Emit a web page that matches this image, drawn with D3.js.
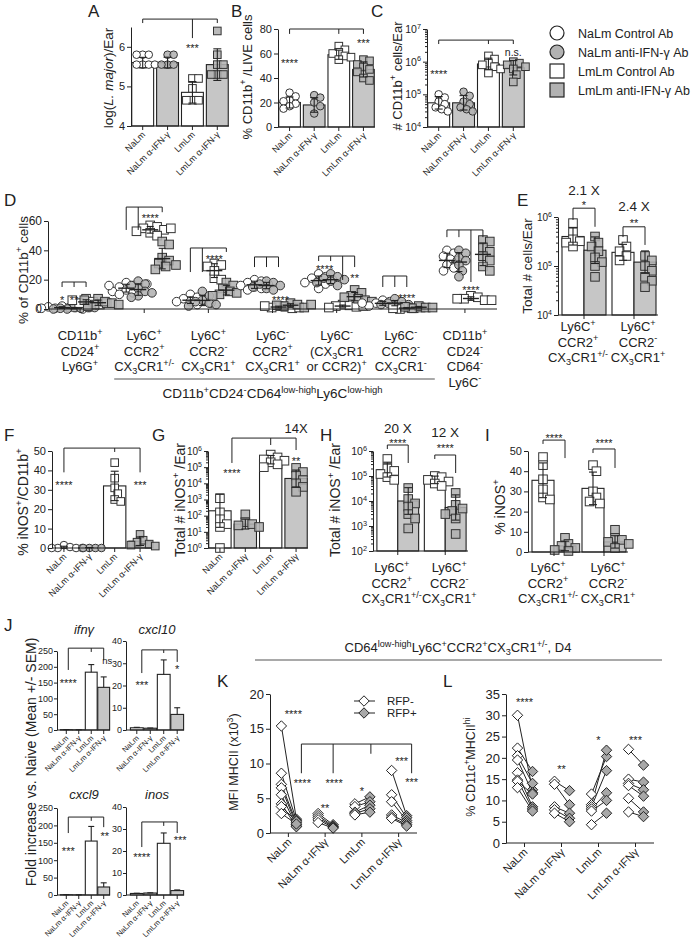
<!DOCTYPE html>
<html><head><meta charset="utf-8">
<script src="https://cdn.jsdelivr.net/npm/d3@7"></script>
<style>body{margin:0;background:#fff}</style>
</head><body>
<script>
const FONT = "'Liberation Sans', Arial, Helvetica, sans-serif";
const INK = "#222", BARGREY = "#c6c6c6", PTGREY = "#b2b2b2";

// ---------- data ----------
const grpLong = ["NaLm", "NaLm α-IFN-γ", "LmLm", "LmLm α-IFN-γ"];
const grpShort = ["NaLm", "NaLm α-IFNγ", "LmLm", "LmLm α-IFNγ"];
const legendLabels = ["NaLm Control Ab", "NaLm anti-IFN-γ Ab", "LmLm Control Ab", "LmLm anti-IFN-γ Ab"];
const shapes4 = ["circle", "circle", "square", "square"];

const aTicks = [4, 5, 6];
const aMean = [5.6, 5.6, 4.85, 5.55];
const aPts = [[5.8, 5.8, 5.8, 5.55, 5.55, 5.55, 5.55], [5.8, 5.8, 5.55, 5.55, 5.55], [5.2, 5.2, 4.95, 4.65, 4.65, 4.65], [6.4, 5.8, 5.55, 5.55, 5.3, 5.3, 5.3]];

const bTicks = [0, 20, 40, 60, 80];
const bMean = [20, 18, 59, 47];
const bPts = [[28, 25, 22, 21, 19, 17, 15], [26, 24, 20, 17, 11], [66, 63, 61, 60, 58, 57, 55], [55, 54, 51, 49, 47, 45, 40, 38]];

const cTicks = [1e4, 1e5, 1e6, 1e7];
const cMean = [5.5e4, 5.5e4, 8.5e5, 6.5e5];
const cPts = [[1e5, 8e4, 6e4, 5e4, 4e4, 3.5e4, 3e4], [1.2e5, 9e4, 6e4, 5e4, 4e4, 3.5e4, 3e4], [1.5e6, 1.2e6, 9e5, 8e5, 7e5, 6e5, 4.5e5], [1e6, 9e5, 8e5, 7e5, 6e5, 4e5, 2.4e5]];

const dTicks = [0, 20, 40, 60];
const dGroups = [
  ["CD11b{^+}", "CD24{^+}", "Ly6G{^+}"],
  ["Ly6C{^+}", "CCR2{^+}", "CX{_3}CR1{^+/-}"],
  ["Ly6C{^+}", "CCR2{^-}", "CX{_3}CR1{^+}"],
  ["Ly6C{^-}", "CCR2{^+}", "CX{_3}CR1{^+}"],
  ["Ly6C{^-}", "(CX{_3}CR1", "or CCR2){^+}"],
  ["Ly6C{^-}", "CCR2{^-}", "CX{_3}CR1{^-}"],
  ["CD11b{^+}", "CD24{^-}", "CD64{^-}", "Ly6C{^-}"]];
const dSubtitle = "CD11b{^+}CD24{^-}CD64{^low-high}Ly6C{^low-high}";
const dPts = [
  [[2, 1, 0.5, 1, 1.5, 0, 0.5, 1], [1, 0.5, 0, 1, 0.5, 1, 0], [7, 5, 4, 3, 6, 4], [7, 5, 3, 2, 4, 6, 3]],
  [[18, 16, 15, 14, 13, 12, 11, 16, 10, 17], [19, 17, 14, 12, 9, 8, 11, 16], [57, 56, 55, 54, 53, 52, 50, 55], [46, 44, 35, 33, 31, 29, 27, 30]],
  [[10, 8, 7, 6, 5, 5, 4, 3], [12, 9, 6, 5, 4, 3, 2], [31, 30, 29, 21, 20, 26], [18, 16, 14, 12, 11, 10, 9]],
  [[20, 19, 18, 17, 16, 15, 14, 13], [19, 18, 17, 16, 15, 14, 13], [2, 1.5, 1, 0.5, 2, 1], [4, 3, 2, 1, 2.5, 3]],
  [[24, 22, 21, 20, 19, 18, 17, 14], [24, 22, 21, 20, 19, 18, 16], [3, 2.5, 2, 1.5, 1, 2], [13, 11, 9, 8, 7, 6, 5]],
  [[6, 5, 4, 3, 2, 3, 4], [7, 5, 4, 3, 2, 3], [1, 0.5, 0, 1, 0.5], [2, 1, 0.5, 1, 1.5]],
  [[40, 38, 36, 34, 33, 30, 28, 26], [40, 38, 35, 33, 30, 26, 22], [9, 8, 7, 6, 7, 6], [47, 46, 42, 39, 36, 33, 29, 26]]];

const pairCats = [["Ly6C{^+}", "CCR2{^+}", "CX{_3}CR1{^+/-}"], ["Ly6C{^+}", "CCR2{^-}", "CX{_3}CR1{^+}"]];
const eTicks = [1e4, 1e5, 1e6];
const eMean = [[4e5, 2.1e5], [1.9e5, 1.2e5]];
const ePts = [[[7.5e5, 5e5, 3.5e5, 3.2e5, 3e5, 2.5e5], [4e5, 3e5, 2.5e5, 2e5, 1.5e5, 1.2e5, 1e5, 6e4]],
              [[3.4e5, 2.5e5, 2e5, 1.6e5, 1.3e5], [1.6e5, 1.3e5, 1e5, 8e4, 6e4, 5e4, 3.7e4]]];

const fTicks = [0, 10, 20, 30, 40, 50];
const fMean = [0.3, 0.2, 32, 3.5];
const fPts = [[1.5, 0.5, 0, 0, 0, 0], [0, 0, 0, 0], [44, 36, 31, 28, 25, 24], [7, 4, 3, 2, 1.5, 1]];

const gTicks = [1, 10, 100, 1e3, 1e4, 1e5, 1e6];
const gMean = [200, 30, 2.9e5, 2e4];
const gPts = [[1200, 160, 60, 30, 20, 1], [120, 40, 30, 25, 20], [6e5, 4e5, 3e5, 2.5e5, 2e5, 1.5e5, 1e5], [9e4, 5e4, 3e4, 1.6e4, 1e4, 6e3, 3e3]];

const hTicks = [1e2, 1e3, 1e4, 1e5, 1e6];
const hMean = [[1.8e5, 1e4], [7e4, 5.5e3]];
const hPts = [[[4.8e5, 2e5, 1.6e5, 1.2e5, 9e4, 7e4], [3.3e4, 1.2e4, 8e3, 6e3, 3e3, 2e3, 800]],
              [[1e5, 9e4, 7e4, 6e4, 5e4, 4e4], [2.1e4, 7e3, 5e3, 4e3, 3e3, 2e3, 480]]];

const iTicks = [0, 10, 20, 30, 40, 50];
const iMean = [[35.5, 3], [31.5, 5]];
const iPts = [[[47, 43, 36, 31, 27, 26], [7, 4, 3, 2, 1, 0.5]], [[43, 40, 30, 27, 25, 24], [11, 7, 6, 5, 4, 2]]];

const jGenes = ["ifnγ", "cxcl10", "cxcl9", "inos"];
const jMax = [250, 40, 250, 40];
const jTicks = [[0, 50, 100, 150, 200, 250], [0, 10, 20, 30, 40], [0, 50, 100, 150, 200, 250], [0, 10, 20, 30, 40]];
const jMean = [[1, 0.5, 183, 135], [1, 0.8, 25, 7], [0.8, 0.3, 155, 23], [0.7, 0.9, 23.5, 2]];
const jSem = [[0.3, 0.2, 24, 33], [0.2, 0.1, 6.5, 3], [0.2, 0.1, 42, 12], [0.1, 0.1, 4.7, 0.3]];

const klTitle = "CD64{^low-high}Ly6C{^+}CCR2{^+}CX{_3}CR1{^+/-}, D4";
const rfpLabels = ["RFP-", "RFP+"];
const kTicks = [0, 5, 10, 15, 20];
const kNeg = [[15.4, 8.6, 7, 6.5, 5.5, 4.2, 3.8, 2.8], [2.8, 2.5, 2.2, 1.9, 1.5], [4.2, 3.8, 3.0, 2.8, 2.6], [9.0, 5.5, 4.5, 2.6, 2.3, 2.1]];
const kPos = [[2, 1.8, 1.5, 1.2, 1.0, 0.9, 1.7, 1.3], [1.2, 1.0, 0.9, 0.8, 0.7], [5.2, 4.5, 4.0, 3.5, 3.0], [2.5, 2.2, 1.8, 1.5, 1.2, 1.0]];
const lTicks = [0, 5, 10, 15, 20, 25, 30, 35];
const lNeg = [[30, 22.3, 20.5, 19.5, 16.5, 14.8, 14.5, 13], [14.5, 13.8, 8.5, 7.8, 7], [11.5, 9, 8.5, 8, 7.5, 4.3], [22, 15, 14, 13.5, 10.5, 7.3]];
const lPos = [[12.5, 16.8, 14, 11.8, 8.5, 8, 11.5, 7.5], [12.3, 9, 7, 5.8, 5], [20.3, 21.8, 17, 11.8, 10, 7], [18.3, 14.3, 12.5, 11, 7.3, 6.2]];

// ---------- helpers ----------
const svg = d3.select("body").append("svg").attr("width", 698).attr("height", 943)
  .style("font-family", FONT);

// {^x} superscript, {_x} subscript, {ix} italic
function rich(t, str, fs) {
  const re = /\{([_^i])([^}]*)\}/g;
  let last = 0, m, shift = 0;
  const add = (s, kind) => {
    if (!s) return;
    const sp = t.append("tspan").text(s);
    let target = 0;
    if (kind === "^") { sp.attr("font-size", fs * 0.7); target = -fs * 0.4; }
    else if (kind === "_") { sp.attr("font-size", fs * 0.7); target = fs * 0.25; }
    else if (kind === "i") sp.attr("font-style", "italic");
    if (target !== shift) { sp.attr("dy", target - shift); shift = target; }
  };
  while ((m = re.exec(str))) { add(str.slice(last, m.index), ""); add(m[2], m[1]); last = re.lastIndex; }
  add(str.slice(last), "");
}
function text(x, y, str, fs, o = {}) {
  const t = svg.append("text").attr("x", x).attr("y", y).attr("font-size", fs)
    .attr("text-anchor", o.anchor || "middle").attr("fill", INK);
  if (o.rot) t.attr("transform", `rotate(${o.rot},${x},${y})`);
  rich(t, str, fs);
  return t;
}
function ylab(xc, yc, str, fs) { text(xc + fs * 0.36, yc, str, fs, {rot: -90}); }
function letter(x, y, s) { text(x, y, s, 17, {anchor: "start"}); }

function yAxis(y, x, ticks, fs, log, tight) {
  const g = svg.append("g").attr("transform", `translate(${x},0)`)
    .call(d3.axisLeft(y).tickValues(ticks).tickSize(tight ? 3 : 4).tickSizeOuter(0).tickPadding(tight ? 1 : 2)
      .tickFormat(log ? () => "" : d3.format("d")));
  g.selectAll("path,line").attr("stroke", INK);
  g.selectAll("text").attr("font-size", fs).attr("fill", INK).style("font-family", FONT);
  if (log) {
    g.selectAll(".tick text").each(function (d) { rich(d3.select(this), `10{^${Math.round(Math.log10(d))}}`, fs); });
    const [a, b] = y.domain().map(v => Math.round(Math.log10(v)));
    const minor = [];
    for (let e = a; e < b; e++) for (let k = 2; k < 10; k++) minor.push(k * 10 ** e);
    const mg = svg.append("g").attr("transform", `translate(${x},0)`)
      .call(d3.axisLeft(y).tickValues(minor).tickSize(2).tickFormat(""));
    mg.select("path").remove();
    mg.selectAll("line").attr("stroke", INK);
  }
}
function xAxis(x0, x1, base, centers, labels, fs) {
  svg.append("line").attr("x1", x0).attr("x2", x1).attr("y1", base).attr("y2", base).attr("stroke", INK);
  svg.append("g").selectAll("line").data(centers).enter().append("line")
    .attr("x1", d => d).attr("x2", d => d).attr("y1", base).attr("y2", base + 4).attr("stroke", INK);
  if (labels) centers.forEach((c, i) => text(c + fs * 0.35, base + 6 + fs * 0.35, labels[i], fs, {anchor: "end", rot: -45}));
}
function catLabels(centers, lines, y0, fs) {
  centers.forEach((c, i) => lines[i].forEach((s, k) => text(c, y0 + k * 15.5, s, fs)));
}
function swarm(vals, y, r) {
  const placed = [];
  return vals.map(v => {
    const py = y(v);
    for (let k = 0; k < 40; k++) {
      const dx = (k % 2 ? 1 : -1) * Math.ceil(k / 2) * r * 0.8;
      if (placed.every(p => Math.hypot(p[0] - dx, p[1] - py) >= r * 1.55)) { placed.push([dx, py]); return dx; }
    }
    return 0;
  });
}
function marks(pts, shape, filled, r) {
  const g = svg.append("g").attr("stroke", "#333").attr("stroke-width", 1)
    .attr("fill", filled ? PTGREY : "#fff").attr("fill-opacity", filled ? 0.88 : 1);
  if (shape === "circle") g.selectAll("circle").data(pts).enter().append("circle")
    .attr("cx", d => d[0]).attr("cy", d => d[1]).attr("r", r);
  else g.selectAll("rect").data(pts).enter().append("rect")
    .attr("x", d => d[0] - r).attr("y", d => d[1] - r).attr("width", 2 * r).attr("height", 2 * r);
}
function errBar(x, ylo, yhi, w, capLo = true) {
  const g = svg.append("g").attr("stroke", INK).attr("stroke-width", 1.1);
  g.append("line").attr("x1", x).attr("x2", x).attr("y1", ylo).attr("y2", yhi);
  g.append("line").attr("x1", x - w).attr("x2", x + w).attr("y1", yhi).attr("y2", yhi);
  if (capLo) g.append("line").attr("x1", x - w).attr("x2", x + w).attr("y1", ylo).attr("y2", ylo);
}
function sdRange(vals, m, log, lo0) {
  const sd = log ? d3.deviation(vals.map(Math.log10)) : d3.deviation(vals);
  return log ? [Math.max(lo0, m / 10 ** sd), m * 10 ** sd] : [Math.max(lo0, m - sd), m + sd];
}
function annotate(X, Y, ann) {
  const g = svg.append("g").attr("stroke", INK).attr("stroke-width", 1);
  (ann.br || []).forEach(b => {
    const xs = b.legs.map(l => X(l[0]) + (l[2] || 0));
    g.append("line").attr("x1", d3.min(xs)).attr("x2", d3.max(xs)).attr("y1", Y(b.top)).attr("y2", Y(b.top));
    b.legs.forEach((l, i) => g.append("line").attr("x1", xs[i]).attr("x2", xs[i]).attr("y1", Y(b.top)).attr("y2", Y(l[1])));
  });
  (ann.st || []).forEach(s => {
    const star = /^\*+$/.test(s[2]);
    svg.append("text").attr("x", X(s[0]) + (s[3] || 0)).attr("y", Y(s[1])).attr("dy", star ? "0.62em" : "0.35em")
      .attr("text-anchor", "middle").attr("font-size", s[4] || 11).attr("fill", INK).text(s[2]);
  });
}

// bar chart with 4 groups
function barPanel(p) {
  const ax = p.ax || p.xr[0];
  const x = d3.scaleBand().domain(d3.range(p.mean.length)).range(p.xr)
    .paddingInner(p.pad == null ? 0.12 : p.pad).paddingOuter(0.03);
  const y = (p.log ? d3.scaleLog() : d3.scaleLinear()).domain(p.dom).range(p.yr);
  const base = p.yr[0];
  const cx = i => x(i) + x.bandwidth() / 2;
  svg.append("g").selectAll("rect").data(p.mean).enter().append("rect")
    .attr("x", (d, i) => x(i)).attr("width", x.bandwidth())
    .attr("y", d => y(d)).attr("height", d => base - y(d))
    .attr("fill", (d, i) => i % 2 ? BARGREY : "#fff").attr("stroke", INK).attr("stroke-width", 1.1);
  if (p.pts) p.pts.forEach((vals, i) => {
    const offs = swarm(vals, y, p.r);
    marks(vals.map((v, k) => [cx(i) + offs[k], y(v)]), p.shape[i], i % 2 === 1, p.r);
  });
  if (p.pts) p.pts.forEach((vals, i) => {
    const [lo, hi] = sdRange(vals, p.mean[i], p.log, p.dom[0]);
    errBar(cx(i), y(lo), y(hi), 4);
  });
  if (p.sem) p.sem.forEach((e, i) => errBar(cx(i), y(p.mean[i]), y(p.mean[i] + e), 3, false));
  yAxis(y, ax, p.ticks, p.fs, p.log, p.tight);
  xAxis(ax, p.xr[1], base, p.mean.map((d, i) => cx(i)), p.xlab, p.xfs);
  if (p.ann) annotate(cx, p.log ? v => y(10 ** v) : y, p.ann);
}

// two categories x two treatments
function pairPanel(p) {
  const xo = d3.scaleBand().domain([0, 1]).range(p.xr).paddingInner(0.12).paddingOuter(0.04);
  const xi = d3.scaleBand().domain([0, 1]).range([0, xo.bandwidth()]);
  const y = (p.log ? d3.scaleLog() : d3.scaleLinear()).domain(p.dom).range(p.yr);
  const base = p.yr[0];
  const X = k => Array.isArray(k) ? xo(k[0]) + xi(k[1]) + xi.bandwidth() / 2 : xo(k) + xo.bandwidth() / 2;
  const cells = p.mean.flatMap((row, c) => row.map((m, s) => ({c, s, m, vals: p.pts[c][s]})));
  svg.append("g").selectAll("rect").data(cells).enter().append("rect")
    .attr("x", d => xo(d.c) + xi(d.s)).attr("width", xi.bandwidth())
    .attr("y", d => y(d.m)).attr("height", d => base - y(d.m))
    .attr("fill", d => d.s ? BARGREY : "#fff").attr("stroke", INK).attr("stroke-width", 1.1);
  cells.forEach(d => {
    const offs = swarm(d.vals, y, 4.3);
    marks(d.vals.map((v, k) => [X([d.c, d.s]) + offs[k], y(v)]), "square", d.s === 1, 4.3);
  });
  cells.forEach(d => {
    const [lo, hi] = sdRange(d.vals, d.m, p.log, p.dom[0]);
    errBar(X([d.c, d.s]), y(lo), y(hi), 4);
  });
  yAxis(y, p.xr[0] - 2, p.ticks, p.fs, p.log);
  xAxis(p.xr[0] - 2, p.xr[1], base, [X(0), X(1)], null);
  catLabels([X(0) - 6, X(1) + 4], pairCats, p.labY, 13);
  if (p.ann) annotate(X, p.log ? v => y(10 ** v) : y, p.ann);
}

// paired RFP- / RFP+ diamonds
function diamond(r) { return `M0,${-r}L${r},0L0,${r}L${-r},0Z`; }
function pairedPanel(p) {
  const x = d3.scaleBand().domain(d3.range(4)).range(p.xr);
  const y = d3.scaleLinear().domain(p.dom).range(p.yr);
  const cx = i => x(i) + x.bandwidth() / 2;
  const lines = p.neg.flatMap((vals, i) => vals.map((v, k) => [cx(i) - 7, y(v), cx(i) + 8, y(p.pos[i][k])]));
  svg.append("g").selectAll("line").data(lines).enter().append("line")
    .attr("x1", d => d[0]).attr("y1", d => d[1]).attr("x2", d => d[2]).attr("y2", d => d[3])
    .attr("stroke", INK).attr("stroke-width", 1);
  [p.neg, p.pos].forEach((set, s) => {
    const pts = set.flatMap((vals, i) => vals.map(v => [cx(i) + (s ? 8 : -7), y(v)]));
    svg.append("g").selectAll("path").data(pts).enter().append("path")
      .attr("d", diamond(5.2)).attr("transform", d => `translate(${d[0]},${d[1]})`)
      .attr("fill", s ? "#a8a8a8" : "#fff").attr("stroke", INK).attr("stroke-width", 1);
  });
  yAxis(y, p.xr[0], p.ticks, 13, false);
  xAxis(p.xr[0], p.xr[1], p.yr[0], d3.range(4).map(cx), grpShort, 11);
  annotate(cx, y, p.ann);
}

// ---------- A, B, C ----------
letter(88, 17, "A"); letter(231, 17, "B"); letter(371, 17, "C");
barPanel({mean: aMean, pts: aPts, shape: shapes4, r: 3.8, xr: [131, 229], yr: [126, 27], dom: [4, 6.5],
  ticks: aTicks, fs: 11, xlab: grpLong, xfs: 9,
  ann: {br: [{top: 6.7, legs: [[0, 6.6], [2, 6.22], [3, 6.6]]}], st: [[2, 6.05, "***"]]}});
ylab(108, 78, "log({iL. major})/Ear", 13.5);
barPanel({mean: bMean, pts: bPts, shape: shapes4, r: 3.8, xr: [278, 375], yr: [127, 29], dom: [0, 80],
  ticks: bTicks, fs: 11, xlab: grpLong, xfs: 9,
  ann: {br: [{top: 80, legs: [[0, 76], [2, 76], [3, 76]]}], st: [[0, 54.7, "****"], [3, 71, "***"]]}});
ylab(247, 77, "% CD11b{^+} /LIVE cells", 13);
barPanel({mean: cMean, pts: cPts, shape: shapes4, r: 3.8, xr: [427, 525], yr: [127, 29], dom: [1e4, 1e7], log: true,
  ticks: cTicks, fs: 10.5, xlab: grpLong, xfs: 9,
  ann: {br: [{top: 6.66, legs: [[0, 6.54], [2, 6.54], [3, 6.54]]}], st: [[0, 5.71, "****"], [3, 6.3, "n.s.", 0, 10.5]]}});
ylab(397, 76, "# CD11b{^+} cells/Ear", 13);

// legend
const lgY = d3.scalePoint().domain(legendLabels).range([33, 90]);
legendLabels.forEach((s, i) => {
  if (shapes4[i] === "circle")
    svg.append("circle").attr("cx", 557).attr("cy", lgY(s)).attr("r", 7)
      .attr("fill", i % 2 ? PTGREY : "#fff").attr("stroke", INK).attr("stroke-width", 1.2);
  else
    svg.append("rect").attr("x", 550).attr("y", lgY(s) - 7).attr("width", 14).attr("height", 14)
      .attr("fill", i % 2 ? PTGREY : "#fff").attr("stroke", INK).attr("stroke-width", 1.2);
  text(578, lgY(s) + 4.5, s, 12.5, {anchor: "start"});
});

// ---------- D ----------
letter(4, 206, "D");
{
  const x = d3.scaleBand().domain(d3.range(7)).range([48, 497]);
  const sub = d3.scaleBand().domain(d3.range(4)).range([-24, 24]);
  const y = d3.scaleLinear().domain([0, 60]).range([309, 221]);
  const X = k => Array.isArray(k) ? x(k[0]) + x.bandwidth() / 2 + sub(k[1]) + sub.bandwidth() / 2 : x(k) + x.bandwidth() / 2;
  dPts.forEach((grp, gi) => grp.forEach((vals, si) => {
    const offs = swarm(vals, y, 4.3);
    marks(vals.map((v, k) => [X([gi, si]) + offs[k], y(v)]), si < 2 ? "circle" : "square", si % 2 === 1, 4.3);
  }));
  const mg = svg.append("g").attr("stroke", INK).attr("stroke-width", 1.4);
  dPts.forEach((grp, gi) => grp.forEach((vals, si) => {
    const c = X([gi, si]), m = d3.mean(vals), sd = d3.deviation(vals);
    mg.append("line").attr("x1", c - 8).attr("x2", c + 8).attr("y1", y(m)).attr("y2", y(m));
    errBar(c, y(Math.max(0, m - sd)), y(m + sd), 3.5);
  }));
  yAxis(y, 48, dTicks, 12, false);
  xAxis(48, 497, 309, d3.range(7).map(X), null);
  catLabels(d3.range(7).map(X), dGroups, 340, 13);
  svg.append("line").attr("x1", X(1) - 30).attr("x2", X(5) + 34).attr("y1", 379).attr("y2", 379).attr("stroke", "#555").attr("stroke-width", 1.2);
  text((X(1) + X(5)) / 2, 398, dSubtitle, 13.5);
  annotate(X, y, {
    br: [{top: 18.4, legs: [[[0, 0], 15], [[0, 1], 15], [[0, 2], 15]]},
         {top: 69.5, legs: [[[1, 0], 53.9], [[1, 1], 53.9], [[1, 3], 66]]},
         {top: 41.6, legs: [[[2, 0], 25.2], [[2, 1], 25.2], [[2, 3], 38.9]]},
         {top: 35.5, legs: [[[3, 0], 28.6], [[3, 1], 28.6], [[3, 2], 28.6]]},
         {top: 36.1, legs: [[[4, 0], 32.7], [[4, 1], 32.7], [[4, 2], 19.8], [[4, 3], 28.6]]},
         {top: 22.5, legs: [[[5, 0], 15], [[5, 1], 15], [[5, 2], 15]]},
         {top: 53.9, legs: [[[6, 0], 49], [[6, 1], 49], [[6, 2], 18.4], [[6, 3], 49]]}],
    st: [[[0, 0], 8.2, "*"], [[0, 1], 8.2, "**"], [[1, 2], 64, "****"], [[2, 2], 36.1, "****"],
         [3, 8.2, "****", 8], [[4, 0], 29.3, "****", 6], [[4, 3], 23.2, "**"], [[5, 2], 9.5, "****"], [[6, 2], 15, "****"]]});
  ylab(23, 270, "% of CD11b{^+} cells", 13.5);
}

// ---------- E ----------
letter(517, 206, "E");
pairPanel({mean: eMean, pts: ePts, xr: [560, 658], yr: [315, 217], dom: [1e4, 1e6], log: true, ticks: eTicks, fs: 10, labY: 331,
  ann: {br: [{top: 6.18, legs: [[[0, 0], 5.94], [[0, 1], 5.8]]}, {top: 5.8, legs: [[[1, 0], 5.59], [[1, 1], 5.43]]}],
        st: [[0, 6.55, "2.1 X", 0, 13.5], [0, 6.31, "*"], [1, 6.22, "2.4 X", 0, 13.5], [1, 5.94, "**"]]}});
ylab(527, 266, "Total # cells/Ear", 13.5);

// ---------- F, G ----------
letter(4, 441, "F"); letter(152, 441, "G");
barPanel({mean: fMean, pts: fPts, shape: shapes4, r: 3.8, xr: [52, 152], yr: [548, 451], dom: [0, 50],
  ticks: fTicks, fs: 11, xlab: grpLong, xfs: 9,
  ann: {br: [{top: 51.5, legs: [[0, 39], [2, 49.5], [3, 39]]}], st: [[0, 34, "****"], [3, 34, "***"]]}});
ylab(23, 502, "% iNOS{^+}/CD11b{^+}", 14);
barPanel({mean: gMean, pts: gPts, shape: ["square", "square", "square", "square"], r: 4.3, xr: [208, 308], yr: [548, 451],
  dom: [1, 1e6], log: true, ticks: gTicks, fs: 10, xlab: grpShort, xfs: 9,
  ann: {br: [{top: 6.8, legs: [[0, 5.26, 12], [2, 6.37], [3, 6.06]]}],
        st: [[0, 4.83, "****", 12], [3, 5.57, "**"], [3, 7.42, "14X", 0, 13]]}});
ylab(180, 500, "Total # iNOS{^+} /Ear", 14);

// ---------- H, I ----------
letter(320, 441, "H"); letter(485, 441, "I");
pairPanel({mean: hMean, pts: hPts, xr: [375, 468], yr: [551, 451], dom: [1e2, 1e6], log: true, ticks: hTicks, fs: 10.5, labY: 572,
  ann: {br: [{top: 6.24, legs: [[[0, 0], 6.08], [[0, 1], 5.52]]}, {top: 5.84, legs: [[[1, 0], 5.68], [[1, 1], 5.12]]}],
        st: [[0, 6.92, "20 X", 0, 13.5], [0, 6.44, "****"], [1, 6.76, "12 X", 0, 13.5], [1, 6.24, "****"]]}});
ylab(335, 500, "Total # iNOS{^+} /Ear", 14);
pairPanel({mean: iMean, pts: iPts, xr: [530, 628], yr: [552, 451], dom: [0, 50], ticks: iTicks, fs: 11, labY: 572,
  ann: {br: [{top: 55.4, legs: [[[0, 0], 53.5], [[0, 1], 46.5]]}, {top: 51, legs: [[[1, 0], 49], [[1, 1], 41.6]]}],
        st: [[0, 58, "****"], [1, 55.4, "****"]]}});
ylab(500, 507, "% iNOS{^+}", 14);

// ---------- J ----------
letter(4, 631, "J");
{
  const geo = [
    {ax: 57, xr: [60, 110], yr: [730, 651], title: [84, 634]},
    {ax: 126, xr: [130, 184], yr: [730, 641], title: [157, 634]},
    {ax: 57, xr: [60, 110], yr: [895, 808], title: [84, 799]},
    {ax: 126, xr: [130, 184], yr: [895, 807], title: [157, 799]}];
  const anns = [
    {br: [{top: 259, legs: [[0, 190, 2], [2, 247], [3, 221]]}], st: [[0, 158, "****", 2], [3, 218, "ns", 3.5, 9.5]]},
    {br: [{top: 36, legs: [[0, 25.6, 5], [2, 34.6], [3, 30.6]]}], st: [[0, 21.6, "***", 5], [3, 28.8, "*"]]},
    {br: [{top: 224, legs: [[0, 178, 2], [2, 213], [3, 195]]}], st: [[0, 135, "***", 2], [3, 178, "**", 1]]},
    {br: [{top: 33.2, legs: [[0, 21.8, 5], [2, 31.4], [3, 28.2]]}], st: [[0, 18.6, "****", 5], [3, 26.4, "***", 3]]}];
  jGenes.forEach((gname, k) => {
    const g = geo[k];
    barPanel({mean: jMean[k], sem: jSem[k], ax: g.ax, xr: g.xr, yr: g.yr, dom: [0, jMax[k]], pad: 0.05, tight: true,
      ticks: jTicks[k], fs: 9, xlab: grpLong, xfs: 7.5, ann: anns[k]});
    text(g.title[0], g.title[1], `{i${gname}}`, 13);
  });
  ylab(31, 762, "Fold increase vs. Naive (Mean +/- SEM)", 14);
}

// ---------- K, L ----------
text(458, 652, klTitle, 13);
svg.append("line").attr("x1", 255).attr("x2", 662).attr("y1", 660).attr("y2", 660).attr("stroke", "#555").attr("stroke-width", 1.2);
letter(217, 687, "K"); letter(443, 687, "L");
pairedPanel({neg: kNeg, pos: kPos, xr: [270, 417], yr: [833, 694], dom: [0, 20], ticks: kTicks,
  ann: {br: [{top: 12.8, legs: [[0, 8.6, 13], [1, 8.6, 8], [2, 11.4, 9], [3, 8.6, 13]]}],
        st: [[0, 17.6, "****", 5], [0, 7.6, "****", 14], [1, 7.6, "****", 9], [1, 4.0, "**"], [2, 6.5, "*"],
             [3, 10.8, "***", 3], [3, 7.8, "***", 13]]}});
ylab(233, 762, "MFI MHCII (x10{^3})", 12.5);
rfpLabels.forEach((s, i) => {
  const yy = 701 + i * 12;
  svg.append("line").attr("x1", 354).attr("x2", 375).attr("y1", yy).attr("y2", yy).attr("stroke", INK);
  svg.append("path").attr("d", diamond(5.2)).attr("transform", `translate(364,${yy})`)
    .attr("fill", i ? "#a8a8a8" : "#fff").attr("stroke", INK);
  text(387, yy + 4, s, 11.5, {anchor: "start"});
});
pairedPanel({neg: lNeg, pos: lPos, xr: [506, 654], yr: [843, 694], dom: [0, 35], ticks: lTicks,
  ann: {st: [[0, 33.8, "****"], [1, 18.1, "**"], [2, 24.9, "*"], [3, 24.9, "***"]]}});
ylab(470, 767, "% CD11c{^+}MHCII{^hi}", 12.5);
</script>
</body></html>
